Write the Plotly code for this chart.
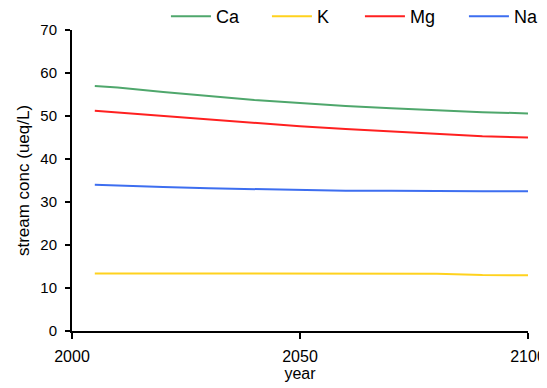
import plotly.graph_objects as go

years = [2005, 2010, 2020, 2030, 2040, 2050, 2060, 2070, 2080, 2090, 2100]
ca = [57.0, 56.6, 55.6, 54.6, 53.7, 53.0, 52.3, 51.8, 51.3, 50.9, 50.6]
k = [13.4, 13.4, 13.4, 13.4, 13.4, 13.4, 13.4, 13.35, 13.3, 13.0, 12.95]
mg = [51.2, 50.8, 50.0, 49.2, 48.3, 47.6, 47.0, 46.4, 45.8, 45.3, 45.0]
na = [34.0, 33.8, 33.5, 33.2, 33.0, 32.7, 32.6, 32.6, 32.5, 32.5, 32.5]

series = [("Ca", ca, "#4fa76c"), ("K", k, "#ffd21e"), ("Mg", mg, "#ff2020"), ("Na", na, "#3d6ef0")]
legend_widths = [46, 38, 49, 30]

fig = go.Figure()
for (name, vals, col), lw in zip(series, legend_widths):
    fig.add_trace(go.Scatter(x=years, y=vals, mode="lines", name=name,
                             line=dict(color=col, width=2), legendwidth=lw))

fig.update_layout(
    width=539, height=380,
    margin=dict(l=64, r=19, t=22, b=57, autoexpand=False),
    paper_bgcolor="white", plot_bgcolor="white",
    font=dict(family="Liberation Sans, Arial, sans-serif", size=16, color="black"),
    showlegend=True,
    legend=dict(orientation="h", x=0.206, xanchor="left", y=1.045, yanchor="middle",
                font=dict(size=18), itemwidth=40, tracegroupgap=0,
                bgcolor="rgba(0,0,0,0)"),
    xaxis=dict(range=[2000, 2100], tickvals=[2000, 2050, 2100], showgrid=False,
               zeroline=False, showline=True, linecolor="black", linewidth=2,
               ticks="outside", ticklen=6, tickcolor="black", tickwidth=2,
               ticklabelstandoff=4, tickfont=dict(size=16),
               title=dict(text="year", standoff=0, font=dict(size=16))),
    yaxis=dict(range=[0, 70], dtick=10, showgrid=False, zeroline=False,
               showline=True, linecolor="black", linewidth=2,
               ticks="outside", ticklen=5, tickcolor="black", tickwidth=2,
               ticklabelstandoff=5, tickfont=dict(size=15),
               title=dict(text="stream conc (ueq/L)", standoff=6, font=dict(size=17))),
)

fig.write_html("out.html")
